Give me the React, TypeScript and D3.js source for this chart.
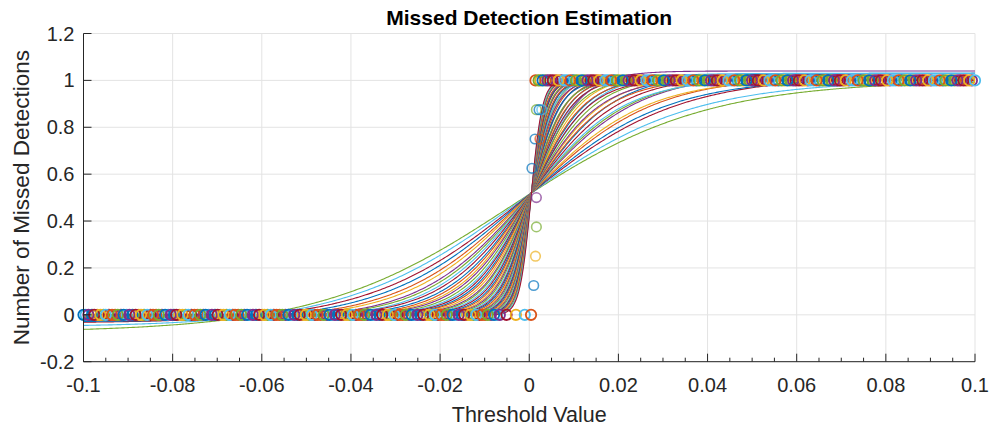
import React from "react";
import * as d3 from "d3";

// MATLAB default colour order
const palette = ["#0072BD", "#D95319", "#EDB120", "#7E2F8E", "#77AC30", "#4DBEEE", "#A2142F"];

const xTicks = [-0.1, -0.08, -0.06, -0.04, -0.02, 0, 0.02, 0.04, 0.06, 0.08, 0.1];
const yTicks = [-0.2, 0, 0.2, 0.4, 0.6, 0.8, 1, 1.2];

// fitted logistic curves: steepness, lower and upper asymptotes
const curveSteepness = [
  46, 52, 58, 64, 70, 76, 82, 88, 94, 100, 107, 114, 121, 128, 136, 144, 152, 160,
  169, 178, 187, 196, 206, 216, 227, 238, 250, 262, 275, 288, 302, 316, 331, 346,
  362, 378, 395, 412, 430, 450, 470, 492, 515, 540, 565, 592, 620, 650, 685, 720, 760, 800,
];
const curveLow = [
  -0.075, -0.052, -0.035, -0.03, -0.025, -0.02, -0.02, -0.015, -0.015, -0.01, -0.01, -0.01,
  -0.008, -0.006, -0.005, -0.004, -0.003, -0.002, 0, 0, 0, 0, 0, 0, 0, 0, 0, 0, 0, 0, 0,
  0, 0, 0, 0, 0, 0, 0, 0, 0, 0, 0, 0, 0, 0, 0, 0, 0, 0, 0, 0, 0,
];
const curveHigh = [
  1.0, 1.0, 1.02, 1.01, 1.02, 1.01, 1.03, 1.02, 1.01, 1.02, 1.03, 1.01, 1.02, 1.01, 1.02,
  1.03, 1.01, 1.02, 1.01, 1.02, 1.04, 1.01, 1.02, 1.01, 1.02, 1.01, 1.02, 1.01, 1.0, 1.02,
  1.01, 1.0, 1.01, 1.02, 1.0, 1.01, 1.0, 1.01, 1.0, 1.0, 1.01, 1.0, 1.0, 1.01, 1.0, 1.0,
  1.0, 1.01, 1.0, 1.0, 1.0, 1.0,
];
// all fits pass through this point
const crossX = 0.0005;
const crossY = 0.52;

// observed thresholds (two overlapping groups of runs)
const zeroMarkerX = [
  -0.1, -0.0989, -0.0976, -0.0962, -0.095, -0.0936, -0.0923, -0.091, -0.0897, -0.0883,
  -0.0871, -0.0857, -0.0844, -0.0831, -0.0817, -0.0804, -0.0792, -0.0778, -0.0765, -0.0751,
  -0.0738, -0.0726, -0.0712, -0.0699, -0.0686, -0.0672, -0.066, -0.0646, -0.0633, -0.062,
  -0.0606, -0.0594, -0.058, -0.0567, -0.0554, -0.054, -0.0527, -0.0515, -0.0501, -0.0488,
  -0.0475, -0.0461, -0.0448, -0.0436, -0.0422, -0.0409, -0.0396, -0.0382, -0.037, -0.0356,
  -0.0343, -0.033, -0.0317, -0.0303, -0.0291, -0.0277, -0.0264, -0.0251, -0.0238, -0.0224,
  -0.0212, -0.0198, -0.0185, -0.0172, -0.0158, -0.0146, -0.0132, -0.0119, -0.0106, -0.0093,
  -0.0079, -0.0066, -0.0051, -0.003, -0.001, 0.0004,
];
const zeroMarkerX2 = [
  -0.0995, -0.0981, -0.0969, -0.0955, -0.0943, -0.0929, -0.0916, -0.0903, -0.089, -0.0876,
  -0.0864, -0.085, -0.0837, -0.0824, -0.081, -0.0797, -0.0785, -0.0771, -0.0758, -0.0744,
  -0.0731, -0.0719, -0.0705, -0.0692, -0.0679, -0.0665, -0.0653, -0.0639, -0.0626, -0.0613,
  -0.0599, -0.0587, -0.0573, -0.056, -0.0547, -0.0533, -0.052, -0.0508, -0.0494, -0.0481,
  -0.0468, -0.0454, -0.0441, -0.0429, -0.0415, -0.0402, -0.0389, -0.0375, -0.0363, -0.0349,
  -0.0336, -0.0323, -0.031, -0.0296, -0.0284, -0.027, -0.0257, -0.0244, -0.0231, -0.0217,
  -0.0205, -0.0191, -0.0178, -0.0165, -0.0151, -0.0139, -0.0125, -0.0112, -0.0099, -0.0086,
  -0.0072,
];
const oneMarkerX = [
  0.0014, 0.0021, 0.003, 0.0041, 0.0053, 0.0066, 0.0079, 0.0092, 0.0105, 0.0118,
  0.0131, 0.0144, 0.0157, 0.0171, 0.0184, 0.0197, 0.021, 0.0223, 0.0236, 0.025,
  0.0263, 0.0276, 0.0289, 0.0302, 0.0315, 0.0329, 0.0342, 0.0355, 0.0368, 0.0381,
  0.0394, 0.0408, 0.0421, 0.0434, 0.0447, 0.046, 0.0473, 0.0487, 0.05, 0.0513,
  0.0526, 0.0539, 0.0552, 0.0566, 0.0579, 0.0592, 0.0605, 0.0618, 0.0631, 0.0645,
  0.0658, 0.0671, 0.0684, 0.0697, 0.071, 0.0724, 0.0737, 0.075, 0.0763, 0.0776,
  0.0789, 0.0803, 0.0816, 0.0829, 0.0842, 0.0855, 0.0868, 0.0882, 0.0895, 0.0908,
  0.0921, 0.0934, 0.0947, 0.0961, 0.0974, 0.0987, 0.1,
];
const oneMarkerX2 = [
  0.0025, 0.0036, 0.0047, 0.006, 0.0072, 0.0085, 0.0098, 0.0111, 0.0124, 0.0138,
  0.0151, 0.0164, 0.0177, 0.019, 0.0203, 0.0217, 0.023, 0.0243, 0.0256, 0.0269,
  0.0282, 0.0296, 0.0309, 0.0322, 0.0335, 0.0348, 0.0361, 0.0375, 0.0388, 0.0401,
  0.0414, 0.0427, 0.044, 0.0454, 0.0467, 0.048, 0.0493, 0.0506, 0.0519, 0.0533,
  0.0546, 0.0559, 0.0572, 0.0585, 0.0598, 0.0612, 0.0625, 0.0638, 0.0651, 0.0664,
  0.0677, 0.0691, 0.0704, 0.0717, 0.073, 0.0743, 0.0756, 0.077, 0.0783, 0.0796,
  0.0809, 0.0822, 0.0835, 0.0849, 0.0862, 0.0875, 0.0888, 0.0901, 0.0914, 0.0928,
  0.0941, 0.0954, 0.0967, 0.098, 0.0993,
];
const midMarkerX = [0.0016, 0.0028, 0.0022, 0.0013, 0.0024, 0.0006, 0.0016, 0.0016, 0.0014, 0.001];
const midMarkerY = [0.875, 0.875, 0.875, 0.75, 0.75, 0.625, 0.5, 0.375, 0.25, 0.125];
const midMarkerSeries = [4, 5, 0, 0, 1, 0, 3, 4, 2, 0];

const W = 993;
const H = 426;
const x = d3.scaleLinear().domain([-0.1, 0.1]).range([83.5, 975]);
const y = d3.scaleLinear().domain([-0.2, 1.2]).range([361.7, 33.5]);

const font = "'Liberation Sans', Arial, Helvetica, sans-serif";
const axisColor = "#262626";
const fmt = (t: number) => d3.format("~g")(t).replace("\u2212", "-");

export default function App() {
  const samples = d3.range(0, 601).map((i) => -0.1 + (0.2 * i) / 600);
  const line = d3
    .line<[number, number]>()
    .x((d) => x(d[0]))
    .y((d) => y(d[1]));

  const curves = curveSteepness.map((k, i) => {
    const lo = curveLow[i];
    const hi = curveHigh[i];
    const x0 = crossX + Math.log((hi - crossY) / (crossY - lo)) / k;
    const pts = samples.map((t) => [t, lo + (hi - lo) / (1 + Math.exp(-k * (t - x0)))] as [number, number]);
    return { d: line(pts) || "", color: palette[(i + 4) % 7] };
  });

  const bandMarkers = [
    ...zeroMarkerX2.map((mx, i) => ({ mx, my: 0, c: palette[(i * 2 + 5) % 7] })),
    ...oneMarkerX2.map((mx, i) => ({ mx, my: 1, c: palette[(i * 2 + 2) % 7] })),
    ...zeroMarkerX.map((mx, i) => ({ mx, my: 0, c: palette[(i * 3) % 7] })),
    ...oneMarkerX.map((mx, i) => ({ mx, my: 1, c: palette[(i * 3 + 1) % 7] })),
  ];
  const midMarkers = midMarkerX.map((mx, i) => ({ mx, my: midMarkerY[i], c: palette[midMarkerSeries[i]] }));

  const minorX = d3.range(0, 41).map((i) => -0.1 + i * 0.005);

  return (
    <div style={{ position: "absolute", left: 0, top: 0, background: "#fff" }}>
      <svg width={W} height={H} style={{ display: "block", fontFamily: font }}>
        <rect width={W} height={H} fill="#fff" />
        {/* grid */}
        {xTicks.map((t) => (
          <line key={"gx" + t} x1={x(t)} x2={x(t)} y1={y(-0.2)} y2={y(1.2)} stroke="#e3e3e3" strokeWidth={1} />
        ))}
        {yTicks.map((t) => (
          <line key={"gy" + t} x1={x(-0.1)} x2={x(0.1)} y1={y(t)} y2={y(t)} stroke="#e3e3e3" strokeWidth={1} />
        ))}

        {/* fitted curves, then observed markers */}
        <g fill="none" strokeWidth={1.1}>
          {curves.map((c, i) => (
            <path key={"c" + i} d={c.d} stroke={c.color} />
          ))}
        </g>
        <g fill="none" strokeWidth={1.8}>
          {bandMarkers.map((m, i) => (
            <circle key={"m" + i} cx={x(m.mx)} cy={y(m.my)} r={5.2} stroke={m.c} />
          ))}
        </g>
        <g fill="none" strokeWidth={1.6} strokeOpacity={0.7}>
          {midMarkers.map((m, i) => (
            <circle key={"mm" + i} cx={x(m.mx)} cy={y(m.my)} r={4.8} stroke={m.c} />
          ))}
        </g>

        {/* axes */}
        <line x1={x(-0.1)} x2={x(0.1)} y1={y(-0.2)} y2={y(-0.2)} stroke={axisColor} />
        <line x1={x(-0.1)} x2={x(-0.1)} y1={y(-0.2)} y2={y(1.2)} stroke={axisColor} />
        {minorX.map((t, i) => (
          <line
            key={"tx" + i}
            x1={x(t)}
            x2={x(t)}
            y1={y(-0.2)}
            y2={y(-0.2) - (i % 4 === 0 ? 8 : 4)}
            stroke={axisColor}
          />
        ))}
        {yTicks.map((t) => (
          <line key={"ty" + t} x1={x(-0.1)} x2={x(-0.1) + 8} y1={y(t)} y2={y(t)} stroke={axisColor} />
        ))}
        {xTicks.map((t) => (
          <text key={"lx" + t} x={x(t)} y={392} textAnchor="middle" fontSize={20} fill={axisColor}>
            {fmt(t)}
          </text>
        ))}
        {yTicks.map((t) => (
          <text key={"ly" + t} x={x(-0.1) - 9} y={y(t) + 7} textAnchor="end" fontSize={20} fill={axisColor}>
            {fmt(t)}
          </text>
        ))}

        <text x={x(0)} y={25} textAnchor="middle" fontSize={21} fontWeight="bold" fill="#000">
          Missed Detection Estimation
        </text>
        <text x={x(0)} y={422} textAnchor="middle" fontSize={21.5} fill={axisColor}>
          Threshold Value
        </text>
        <text
          transform={`translate(28.5,${(y(-0.2) + y(1.2)) / 2}) rotate(-90)`}
          textAnchor="middle"
          fontSize={22.5}
          fill={axisColor}
        >
          Number of Missed Detections
        </text>
      </svg>
    </div>
  );
}
